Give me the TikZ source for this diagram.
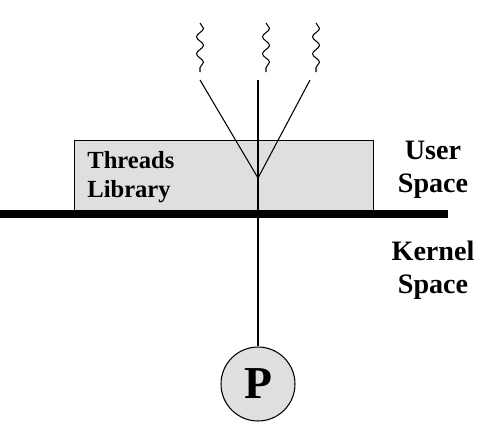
\documentclass[tikz,border=0pt]{standalone}
\usepackage{fontspec}
\setmainfont{Liberation Serif}
\usetikzlibrary{decorations.pathmorphing, positioning}

\begin{document}
\begin{tikzpicture}[x=0.02cm, y=-0.02cm,
        % library box on top of the kernel line
        libbox/.style={
            rectangle,
            draw=black,
            fill=gray!25,
            line width=0.6pt,
            minimum width=5.98cm,
            minimum height=1.4cm,
            anchor=north west
        },
        % process circle
        proc/.style={
            circle,
            draw=black,
            fill=gray!25,
            line width=0.6pt,
            minimum size=1.48cm,
            inner sep=0pt,
            font=\fontsize{26}{26}\selectfont\bfseries
        },
        % space labels on the right
        spacelabel/.style={
            align=center,
            inner sep=0pt,
            font=\fontsize{16}{18.8}\selectfont\bfseries
        },
        % thin connecting lines
        link/.style={
            line width=0.6pt
        },
        % user level threads
        thread/.style={
            line width=0.6pt,
            decorate,
            decoration={snake, amplitude=0.07cm, segment length=0.34cm}
        }
    ]

        \useasboundingbox (0,0) rectangle (502,436);

        % Nodes
        \node[libbox] (lib) at (74, 140) {};
        \node[align=left, anchor=base west, inner sep=0pt,
              font=\fontsize{14}{16.5}\selectfont\bfseries] (libtext) at (87, 197) {Threads\\Library};

        \node[spacelabel] (user) at (433, 170) {User\\Space};
        \node[spacelabel] (kernel) at (433, 270) {Kernel\\Space};

        \node[proc] (p) at (258, 384) {P};

        % thread ends and the mapping point
        \coordinate (t1) at (200, 80);
        \coordinate (t2) at (258, 80);
        \coordinate (t3) at (310, 80);
        \coordinate (v) at (258, 178);

        % --- THREADS ---
        \draw[thread] (200, 23) -- (200, 72);
        \draw[thread] (266, 23) -- (266, 72);
        \draw[thread] (316, 23) -- (316, 72);

        % --- CONNECTIONS ---
        \draw[link] (t1) -- (v);
        \draw[link] (t3) -- (v);
        \draw[link] (t2) -- (p.north);

        % kernel boundary
        \draw[line width=4.5pt] (0, 214) -- (448, 214);

\end{tikzpicture}
\end{document}
